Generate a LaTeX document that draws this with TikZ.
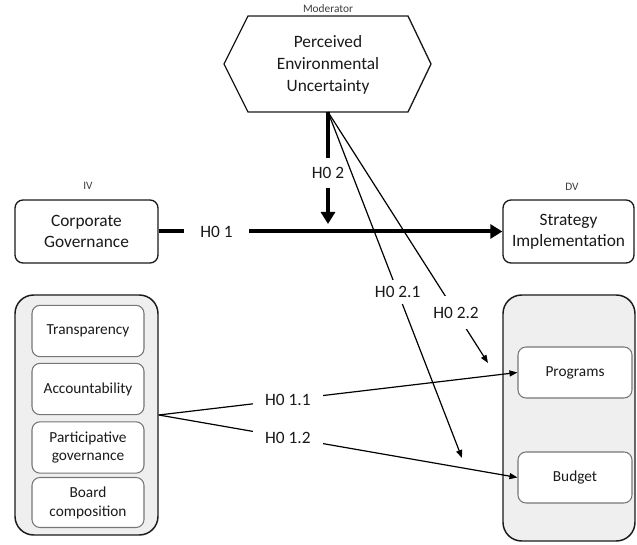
\documentclass[tikz,border=0pt]{standalone}
\usepackage{fontspec}
\setmainfont{Carlito}
\usetikzlibrary{arrows.meta}
\definecolor{boxgray}{HTML}{EFEFEF}
\definecolor{ink}{HTML}{1A1A1A}
\tikzset{
  bigtxt/.style={font=\fontsize{13}{15.8}\selectfont, text=ink, align=center},
  smalltxt/.style={font=\fontsize{11.5}{14.2}\selectfont, text=ink, align=center},
  tinytxt/.style={font=\fontsize{8.5}{10}\selectfont, text=ink!85},
  mainbox/.style={bigtxt, draw=ink, line width=1pt, rounded corners=6pt, fill=white, inner sep=0pt},
  groupbox/.style={draw=ink, line width=1.1pt, rounded corners=14pt, fill=boxgray, inner sep=0pt},
  itembox/.style={smalltxt, draw=ink!60, line width=0.8pt, rounded corners=6pt, fill=white, inner sep=0pt},
  lbl/.style={bigtxt, fill=white, inner xsep=2pt, inner ysep=4pt},
  thickarrow/.style={draw=black, line width=3pt, -{Triangle[length=9pt,width=10.5pt]}},
  thinarrow/.style={draw=black, line width=0.9pt, -{Triangle[length=6pt,width=4.5pt]}},
}
\begin{document}
\begin{tikzpicture}[x=0.75pt,y=-0.75pt]
\useasboundingbox (0,0) rectangle (637,545);

% moderator hexagon
\draw[draw=ink, line width=1pt, fill=white] (248,16) -- (408,16) -- (431,64) -- (408,112) -- (248,112) -- (224,64) -- cycle;
\node[bigtxt, font=\fontsize{13}{16.5}\selectfont] (pew) at (328,65) {Perceived\\Environmental\\Uncertainty};
\coordinate (hexb) at (328,112);
\node[tinytxt] (mod) at (328,9) {Moderator};

% IV / DV
\node[tinytxt] (iv) at (88,186) {IV};
\node[tinytxt] (dv) at (572,187) {DV};

% main boxes
\node[mainbox, minimum width=107.25pt, minimum height=47.25pt] (cg) at (86.5,231.5) {Corporate\\Governance};
\node[mainbox, minimum width=98.25pt, minimum height=47.25pt] (si) at (568.5,231.5) {Strategy\\Implementation};

% left group
\node[groupbox, minimum width=107.25pt, minimum height=180pt] (gov) at (86.5,415) {};
\node[itembox, minimum width=84pt, minimum height=38.5pt] (tr) at (88,331) {Transparency};
\node[itembox, minimum width=84pt, minimum height=38.5pt] (ac) at (88,389) {Accountability};
\node[itembox, minimum width=84pt, minimum height=38.5pt] (pg) at (88,447.5) {Participative\\governance};
\node[itembox, minimum width=84pt, minimum height=37.5pt] (bc) at (88,502.5) {Board\\composition};

% right group
\node[groupbox, minimum width=99pt, minimum height=184.5pt] (si2) at (569,418) {};
\node[itembox, minimum width=85.5pt, minimum height=38.25pt] (pr) at (575,372.5) {Programs};
\node[itembox, minimum width=85.5pt, minimum height=38.25pt] (bu) at (575,477.5) {Budget};

% free ends of moderator arrows
\coordinate (t21) at (462,458);
\coordinate (t22) at (488,363);
\coordinate (t2) at (328,224);

% H0 1
\draw[thickarrow] (cg.east) -- node[lbl, pos=0.168, inner xsep=12pt] (h1) {H0 1} (si.west);
% H0 2
\draw[thickarrow] (hexb) -- node[lbl, pos=0.545, inner ysep=7pt, inner xsep=1pt] (h2) {H0 2} (t2);
% H0 2.1 and 2.2
\draw[thinarrow] (hexb) -- node[lbl, pos=0.52, inner ysep=5pt] (h21) {H0 2.1} (t21);
\draw[thinarrow] (hexb) -- node[lbl, pos=0.80, inner ysep=8pt] (h22) {H0 2.2} (t22);
% H0 1.1 and 1.2
\draw[thinarrow] (gov.east) -- node[lbl, pos=0.36, inner xsep=9pt, inner ysep=2pt] (h11) {H0 1.1} (pr.west);
\draw[thinarrow] (gov.east) -- node[lbl, pos=0.36, inner xsep=9pt, inner ysep=2pt] (h12) {H0 1.2} (bu.west);
\end{tikzpicture}
\end{document}
